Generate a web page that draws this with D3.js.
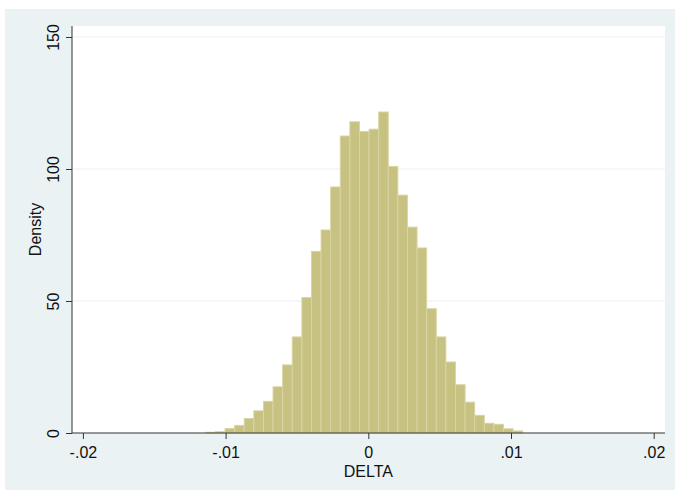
<!DOCTYPE html>
<html>
<head>
<meta charset="utf-8">
<script src="https://cdn.jsdelivr.net/npm/d3@7"></script>
<style>
  body { margin: 0; background: #ffffff; }
  svg { display: block; font-family: "Liberation Sans", Arial, Helvetica, sans-serif; }
</style>
</head>
<body>
<svg id="chart" width="675" height="498"></svg>
<script>
// Histogram bins (DELTA), left edge of first bin and bin width
const binStart = -0.011387;
const binWidth = 0.000673;
const densities = [0.3, 0.5, 1.7, 2.9, 5.5, 8.4, 12.0, 17.5, 25.8, 36.4, 51.3,
  68.8, 76.9, 93.2, 112.5, 117.9, 114.2, 115.1, 121.6, 101.0, 90.1, 78.0, 70.1,
  47.1, 36.4, 26.9, 18.3, 11.7, 6.7, 3.7, 3.3, 1.6, 0.8];
const xTicks = [-0.02, -0.01, 0, 0.01, 0.02];
const xTickLabels = ["-.02", "-.01", "0", ".01", ".02"];
const yTicks = [0, 50, 100, 150];
const yTickLabels = ["0", "50", "100", "150"];
const xTitle = "DELTA";
const yTitle = "Density";

const bins = densities.map((d, i) => ({
  x0: binStart + i * binWidth,
  x1: binStart + (i + 1) * binWidth,
  d: d
}));

const FS = 16;
const svg = d3.select("#chart");
const plot = { left: 72, right: 665, top: 26, bottom: 433 };

// outer background
svg.append("rect").attr("x", 5).attr("y", 9).attr("width", 670).attr("height", 481)
  .attr("fill", "#eaf2f3");
// plot region
svg.append("rect").attr("x", plot.left).attr("y", plot.top)
  .attr("width", plot.right - plot.left).attr("height", plot.bottom - plot.top)
  .attr("fill", "#ffffff");

const x = d3.scaleLinear().domain([-0.02, 0.02]).range([82.9, 653.7]);
const y = d3.scaleLinear().domain([0, 150]).range([433, 37]);

// gridlines
svg.append("g").selectAll("line").data(yTicks.filter(t => t > 0)).join("line")
  .attr("x1", plot.left + 1).attr("x2", plot.right)
  .attr("y1", d => y(d)).attr("y2", d => y(d))
  .attr("stroke", "#eaf2f3").attr("stroke-width", 1.2);

// bars
svg.append("g").selectAll("rect").data(bins).join("rect")
  .attr("x", b => x(b.x0))
  .attr("width", b => x(b.x1) - x(b.x0))
  .attr("y", b => y(b.d))
  .attr("height", b => y(0) - y(b.d))
  .attr("fill", "#c8c282")
  .attr("stroke", "#d9d5a2")
  .attr("stroke-width", 0.9);

// x axis
const xAxis = d3.axisBottom(x).tickValues(xTicks)
  .tickFormat((d, i) => xTickLabels[i]).tickSize(6).tickSizeOuter(0);
const gx = svg.append("g").attr("transform", `translate(0,${plot.bottom})`).call(xAxis);
gx.select(".domain").remove();
gx.append("line").attr("x1", plot.left).attr("x2", plot.right)
  .attr("y1", 0).attr("y2", 0).attr("stroke", "#333").attr("stroke-width", 1);
gx.selectAll(".tick line").attr("stroke", "#333");
gx.selectAll(".tick text").attr("font-size", FS).attr("fill", "#111")
  .attr("font-family", "Liberation Sans, Arial, sans-serif").attr("dy", "1.0em");

// y axis
const yAxis = d3.axisLeft(y).tickValues(yTicks)
  .tickFormat((d, i) => yTickLabels[i]).tickSize(6).tickSizeOuter(0);
const gy = svg.append("g").attr("transform", `translate(${plot.left},0)`).call(yAxis);
gy.select(".domain").remove();
gy.append("line").attr("x1", 0).attr("x2", 0)
  .attr("y1", plot.top).attr("y2", plot.bottom).attr("stroke", "#333").attr("stroke-width", 1);
gy.selectAll(".tick line").attr("stroke", "#333");
gy.selectAll(".tick text")
  .attr("font-size", FS).attr("fill", "#111")
  .attr("font-family", "Liberation Sans, Arial, sans-serif")
  .attr("x", null)
  .attr("text-anchor", "middle")
  .attr("transform", "translate(-13,0) rotate(-90)")
  .attr("dy", "0");

// titles
svg.append("text").attr("x", x(0)).attr("y", 477).attr("text-anchor", "middle")
  .attr("font-size", FS).attr("fill", "#111").text(xTitle);
svg.append("text").attr("transform", `translate(41,${(plot.top + plot.bottom) / 2}) rotate(-90)`)
  .attr("text-anchor", "middle").attr("font-size", FS).attr("fill", "#111").text(yTitle);
</script>
</body>
</html>
